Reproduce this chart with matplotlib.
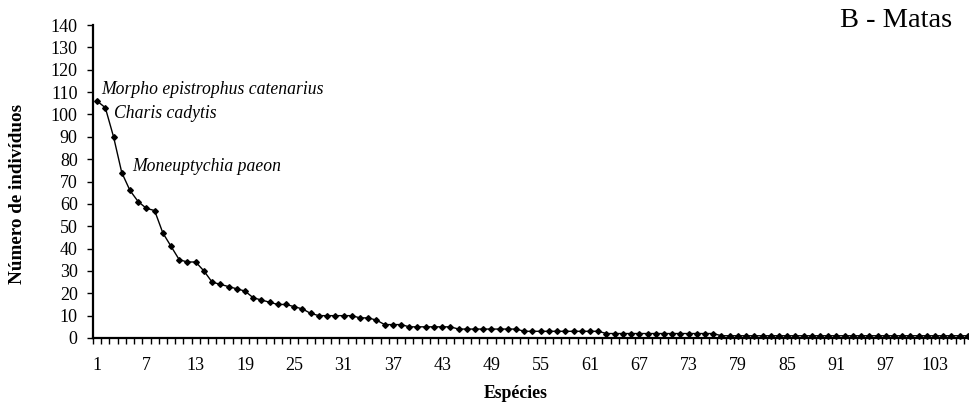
import matplotlib
matplotlib.use("Agg")
import matplotlib.pyplot as plt
import numpy as np

# ---- data ----
head_values = [106, 103, 90, 74, 66, 61, 58, 57, 47, 41,
               35, 34, 34, 30, 25, 24, 23, 22, 21, 18,
               17, 16, 15, 15, 14, 13, 11, 10, 10, 10,
               10, 10, 9, 9, 8, 6, 6, 6]
tail_values = [5] * 6 + [4] * 8 + [3] * 10 + [2] * 14 + [1] * 31
counts = head_values + tail_values
species = list(range(1, len(counts) + 1))
xtick_labels = list(range(1, len(counts) + 1, 6))
annotations = [("Morpho epistrophus catenarius", 1.55, 111),
               ("Charis cadytis", 3.1, 100.6),
               ("Moneuptychia paeon", 5.3, 76.5)]
title = "B - Matas"
xlabel = "Espécies"
ylabel = "Número de indivíduos"

plt.rcParams['font.family'] = ['Liberation Serif', 'DejaVu Serif']

fig = plt.figure(figsize=(9.7, 4.04), dpi=100)
ax = fig.add_axes([93 / 970, 1 - 338 / 404, (972 - 93) / 970, (338 - 25) / 404])

ax.plot(species, counts, color='black', linewidth=1.0, marker='D',
        markersize=2.9, markerfacecolor='black', markeredgecolor='black',
        clip_on=False, zorder=3)

n = len(counts)
ax.set_xlim(0.5, n + 0.5)
ax.set_ylim(0, 140)
ax.set_yticks(np.arange(0, 141, 10))
ax.set_xticks(xtick_labels)
ax.set_xticklabels([str(v) for v in xtick_labels])
ax.set_xticks(np.arange(0.5, n + 1, 1), minor=True)

for s in ['top', 'right']:
    ax.spines[s].set_visible(False)
for s in ['left', 'bottom']:
    ax.spines[s].set_linewidth(1.6)

ax.tick_params(axis='x', which='major', length=0, labelsize=13, pad=14)
ax.tick_params(axis='x', which='minor', length=4, width=1, direction='out')
ax.tick_params(axis='y', which='major', length=4, width=1, direction='out',
               labelsize=13, pad=7)

for text, x, y in annotations:
    ax.text(x, y, text, fontsize=12.7, style='italic', va='center', ha='left')

fig.text(952 / 970, 1 - 27 / 404, title, fontsize=20.5, ha='right', va='baseline')
fig.text(516 / 970, 1 - 393 / 404, xlabel, fontsize=12.8, fontweight='bold',
         ha='center', va='center')
fig.text(18 / 970, 1 - 194 / 404, ylabel, fontsize=13.8, fontweight='bold',
         ha='center', va='center', rotation=90)

fig.savefig('out.png', dpi=100)
